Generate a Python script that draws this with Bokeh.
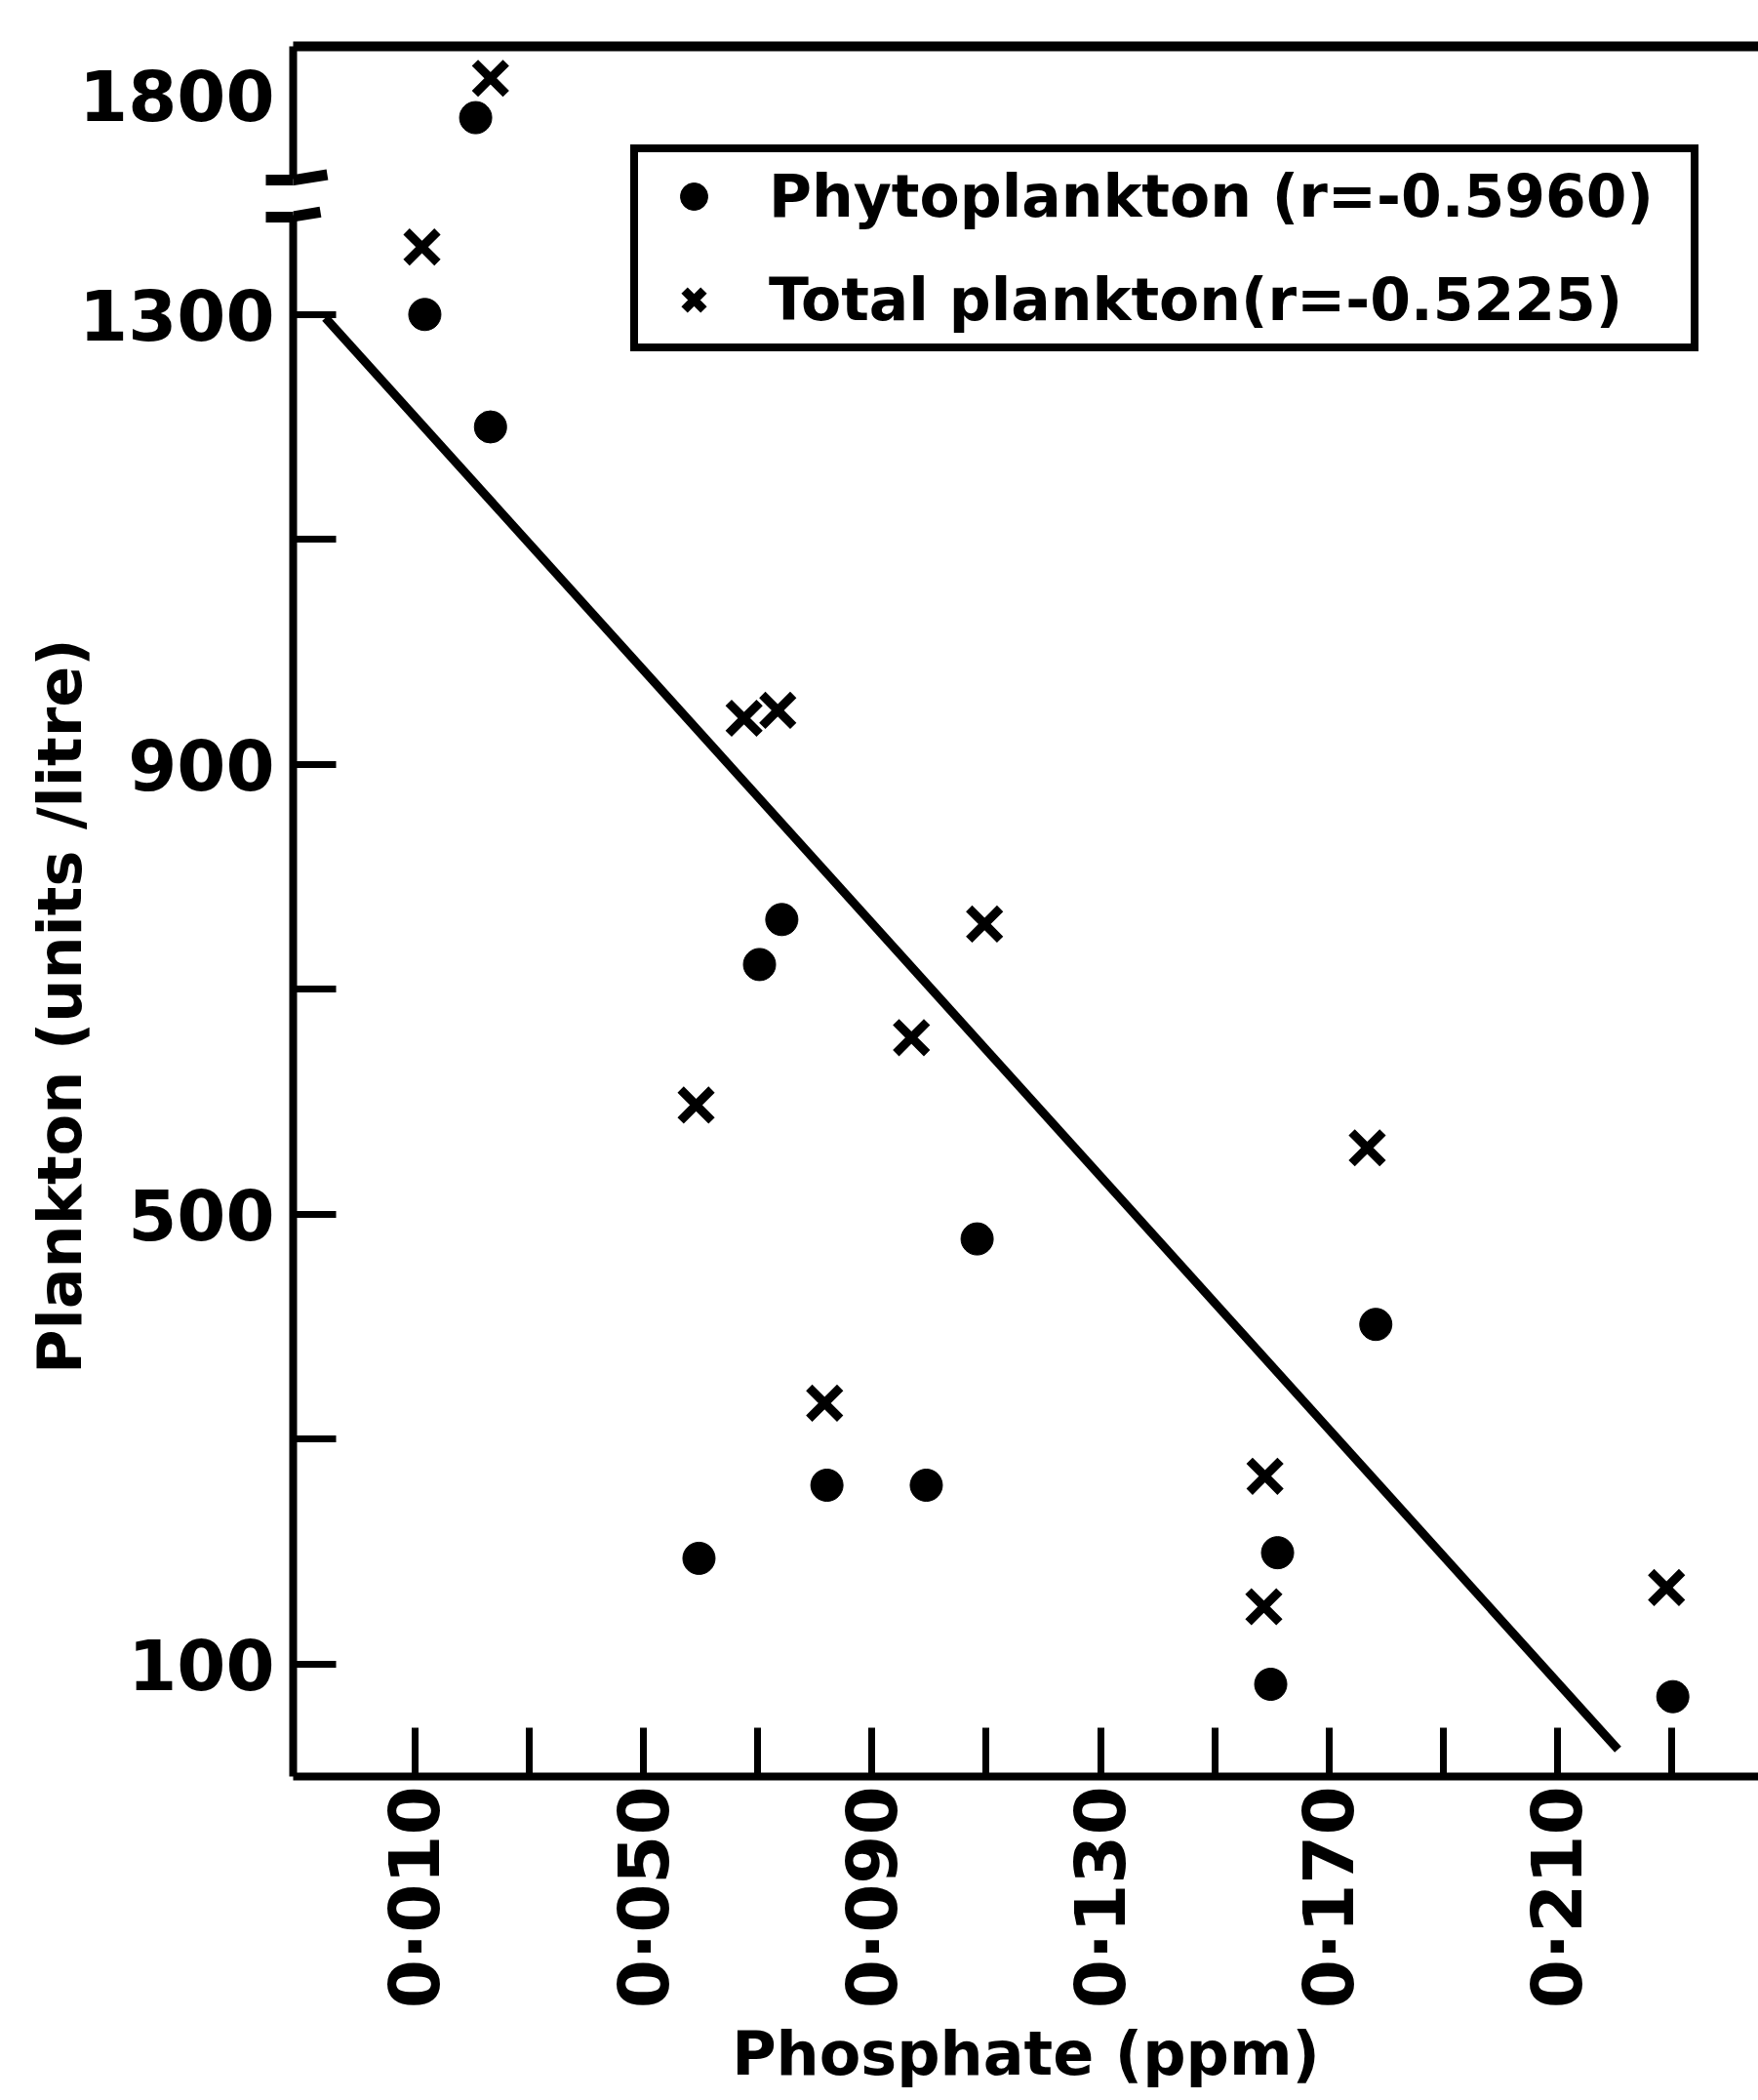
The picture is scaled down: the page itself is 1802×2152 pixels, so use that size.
import math
from bokeh.plotting import figure
from bokeh.models import (FixedTicker, LinearAxis, Legend, LegendItem,
                          Arrow, Range1d)
from bokeh.embed import file_html
from bokeh.resources import INLINE

# ---------------- data ----------------
phyto_phosphate = [0.0206, 0.0117, 0.0232, 0.0703, 0.0742, 0.0597, 0.0821,
                   0.0995, 0.1084, 0.1598, 0.1610, 0.1782, 0.2302]
phyto_units = [1780, 1300, 1200, 722, 762, 194, 259, 259, 478, 82, 199, 402, 71]

total_phosphate = [0.0232, 0.0112, 0.0676, 0.0735, 0.0592, 0.0817, 0.0969,
                   0.1097, 0.1588, 0.1586, 0.1767, 0.2291]
total_units = [1815, 1360, 941, 948, 597, 332, 657, 758, 267, 151, 559, 168]

fit_phosphate = [-0.0057, 0.2206]
fit_units = [1297, 24]

x_ticks = [0.01, 0.03, 0.05, 0.07, 0.09, 0.11, 0.13, 0.15, 0.17, 0.19, 0.21, 0.23]
x_tick_labels = ["0·010", "", "0·050", "", "0·090", "", "0·130", "",
                 "0·170", "", "0·210", ""]
y_ticks = [100, 300, 500, 700, 900, 1100, 1300]
y_tick_labels = ["100", "", "500", "", "900", "", "1300"]
y_break_tick = 1800
legend_labels = ["Phytoplankton (r=-0.5960)", "Total plankton(r=-0.5225)"]
x_title = "Phosphate (ppm)"
y_title = "Plankton (units /litre)"

# broken y axis: values above BREAK_ABOVE are shifted down by BREAK_SHIFT
BREAK_ABOVE = 1600
BREAK_SHIFT = 305
GAP_LOW, GAP_HIGH = 1388.7, 1420.8      # ends of the two spine pieces (display units)
MARK_LOW, MARK_HIGH = 1386.8, 1419.1    # break marks (display units)


def brk(v):
    return v - BREAK_SHIFT if v > BREAK_ABOVE else v


FONT = "DejaVu Sans"
W, H = 1802, 2152
FL, FT, FB = 300, 47, 1820          # frame left / top / bottom (canvas px)
X0, X1 = -0.01135, 0.2452
Y0, Y1 = 0, 1538.4
PPU = (FB - FT) / (Y1 - Y0)


def ycanvas(v):
    return FB - (v - Y0) * PPU


p = figure(width=W, height=H, x_range=Range1d(X0, X1), y_range=Range1d(Y0, Y1),
           output_backend="svg", toolbar_location=None,
           min_border_left=FL, min_border_right=0, min_border_top=FT,
           min_border_bottom=H - FB, background_fill_color="white",
           border_fill_color="white")
p.grid.visible = False
p.outline_line_color = None

TICK_FONT = "72px"
TITLE_FONT = "62px"
MARK_OUT = 28

# ---- x axis
xa = p.xaxis[0]
xa.ticker = FixedTicker(ticks=x_ticks)
xa.major_label_overrides = dict(zip(x_ticks, x_tick_labels))
xa.major_label_orientation = math.pi / 2
xa.major_tick_in = 50
xa.major_tick_out = 0
xa.minor_tick_line_color = None
xa.axis_line_width = 8
xa.major_tick_line_width = 7
xa.axis_line_color = "black"
xa.major_tick_line_color = "black"
xa.major_label_text_font = FONT
xa.major_label_text_font_size = TICK_FONT
xa.major_label_text_font_style = "bold"
xa.major_label_text_color = "black"
xa.major_label_standoff = 10
xa.axis_label = x_title
xa.axis_label_text_font = FONT
xa.axis_label_text_font_size = TITLE_FONT
xa.axis_label_text_font_style = "bold"
xa.axis_label_text_color = "black"
xa.axis_label_standoff = 7

# ---- y axis, built from several pieces
# main: tick labels and title only
main = p.yaxis[0]
main_ticks = [brk(v) for v in y_ticks] + [brk(y_break_tick)]
main_labels = y_tick_labels + [str(y_break_tick)]
main.ticker = FixedTicker(ticks=main_ticks)
main.major_label_overrides = dict(zip(main_ticks, main_labels))
main.axis_line_color = None
main.major_tick_line_color = None
main.minor_tick_line_color = None
main.major_tick_in = 0
main.major_tick_out = 0
main.minor_tick_out = 0
main.major_label_text_font = FONT
main.major_label_text_font_size = TICK_FONT
main.major_label_text_font_style = "bold"
main.major_label_text_color = "black"
main.major_label_standoff = 19 - MARK_OUT
# trailing no-break spaces move the (centred) title down along the axis, as in the original
main.axis_label = y_title + "\u00a0" * 9
main.axis_label_text_font = FONT
main.axis_label_text_font_size = TITLE_FONT
main.axis_label_text_font_style = "bold"
main.axis_label_text_color = "black"
main.axis_label_standoff = -20


def bare_axis(**kw):
    base = dict(major_label_text_color=None, minor_tick_line_color=None,
                major_tick_out=0, minor_tick_out=0, major_tick_in=0,
                major_label_standoff=0, axis_label=None)
    base.update(kw)
    return LinearAxis(**base)


# inward ticks (no line, no labels)
tick_axis = bare_axis(ticker=FixedTicker(ticks=[brk(v) for v in y_ticks]),
                      axis_line_color=None, major_tick_in=44,
                      major_tick_line_width=7, major_tick_line_color="black")
# upper and lower pieces of the spine
upper_spine = bare_axis(ticker=FixedTicker(ticks=[]), bounds=(GAP_HIGH, Y1),
                        axis_line_width=8, axis_line_color="black",
                        major_tick_line_color=None)
lower_spine = bare_axis(ticker=FixedTicker(ticks=[]), bounds=(Y0, GAP_LOW),
                        axis_line_width=8, axis_line_color="black",
                        major_tick_line_color=None)
# outer half of the break marks
break_axis = bare_axis(ticker=FixedTicker(ticks=[MARK_LOW, MARK_HIGH]),
                       axis_line_color=None, major_tick_out=MARK_OUT,
                       major_tick_line_width=11, major_tick_line_color="black")
p.left = [tick_axis, upper_spine, lower_spine, break_axis, main]

# inner, slanted half of the break marks
p.add_layout(Arrow(end=None, x_start=FL - 2, y_start=ycanvas(MARK_HIGH), x_end=FL + 35,
                   y_end=ycanvas(MARK_HIGH) - 6, start_units="canvas", end_units="canvas",
                   line_width=11, line_color="black"))
p.add_layout(Arrow(end=None, x_start=FL - 2, y_start=ycanvas(MARK_LOW), x_end=FL + 28,
                   y_end=ycanvas(MARK_LOW) - 5, start_units="canvas", end_units="canvas",
                   line_width=11, line_color="black"))

# top frame line
top = LinearAxis(ticker=FixedTicker(ticks=[]), axis_line_width=10,
                 axis_line_color="black", major_tick_line_color=None,
                 minor_tick_line_color=None, major_label_text_color=None,
                 major_tick_out=0, minor_tick_out=0)
p.add_layout(top, "above")

# ---- data
r_dot = p.scatter(phyto_phosphate, [brk(v) for v in phyto_units], marker="circle",
                  size=33, fill_color="black", line_color="black")
r_x = p.scatter(total_phosphate, [brk(v) for v in total_units], marker="x",
                size=45, line_width=9, line_color="black")
p.line(fit_phosphate, fit_units, line_width=9, line_color="black")

# ---- legend
legend = Legend(items=[LegendItem(label=legend_labels[0], renderers=[r_dot]),
                       LegendItem(label=legend_labels[1], renderers=[r_x])],
                location=(346, 1460), orientation="vertical",
                border_line_color="black", border_line_width=8, border_line_alpha=1.0,
                background_fill_color="white", background_fill_alpha=1,
                padding=10, spacing=36, margin=0,
                glyph_width=94, glyph_height=70, label_height=70,
                label_width=935, label_standoff=30,
                label_text_font=FONT, label_text_font_size="60px",
                label_text_font_style="bold", label_text_color="black")
p.add_layout(legend)

open("out.html", "w").write(file_html(p, INLINE))
